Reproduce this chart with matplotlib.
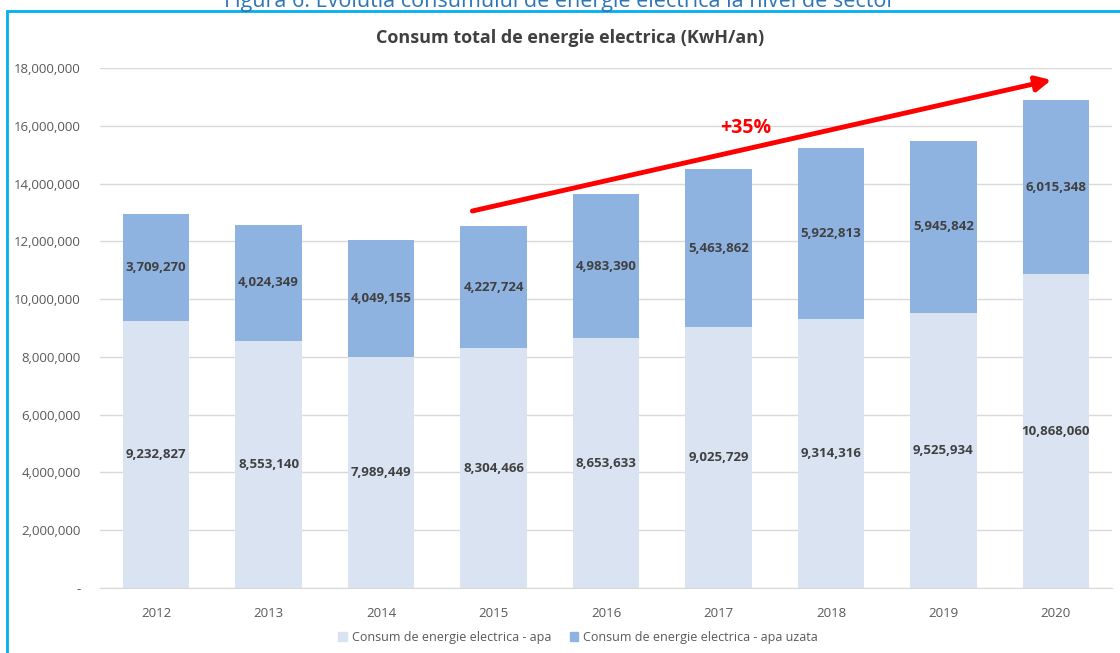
import matplotlib
matplotlib.use("Agg")
import matplotlib.pyplot as plt
from matplotlib.patches import Rectangle, Patch
from matplotlib.ticker import FuncFormatter

years = ["2012", "2013", "2014", "2015", "2016", "2017", "2018", "2019", "2020"]
apa = [9232827, 8553140, 7989449, 8304466, 8653633, 9025729, 9314316, 9525934, 10868060]
apa_uzata = [3709270, 4024349, 4049155, 4227724, 4983390, 5463862, 5922813, 5945842, 6015348]
yticks = [0, 2e6, 4e6, 6e6, 8e6, 10e6, 12e6, 14e6, 16e6, 18e6]

plt.rcParams["font.family"] = ["Open Sans", "DejaVu Sans"]

c_apa = "#dae3f1"
c_uz = "#8eb3e1"
txt = "#404040"

fig = plt.figure(figsize=(11.2, 6.53), dpi=100)
ax = fig.add_axes([100/1120, 1 - 588/653, 1012/1120, 520/653])

x = range(len(years))
ax.bar(x, apa, width=0.59, color=c_apa, zorder=2)
ax.bar(x, apa_uzata, width=0.59, bottom=apa, color=c_uz, zorder=2)

for i in x:
    ax.text(i, apa[i] / 2, f"{apa[i]:,}", ha="center", va="center",
            fontsize=9.5, fontweight="bold", color=txt, zorder=3)
    ax.text(i, apa[i] + apa_uzata[i] / 2, f"{apa_uzata[i]:,}", ha="center",
            va="center", fontsize=9.5, fontweight="bold", color=txt, zorder=3)

ax.set_xlim(-0.5, len(years) - 0.5)
ax.set_ylim(0, 18e6)
ax.set_yticks(yticks)
ax.yaxis.set_major_formatter(FuncFormatter(lambda v, p: "-" if v == 0 else f"{int(v):,}"))
ax.set_xticks(list(x))
ax.set_xticklabels(years)
ax.grid(axis="y", color="#d9d9d9", lw=1, zorder=0)
for s in ["top", "right", "left"]:
    ax.spines[s].set_visible(False)
ax.spines["bottom"].set_color("#d9d9d9")
ax.tick_params(axis="both", length=0, colors="#595959", labelsize=9.5)
ax.tick_params(axis="y", pad=14)
ax.tick_params(axis="x", pad=14)

# chart title, centred on the chart frame rather than the plot area
fig.text(570/1120, 1 - 38/653, "Consum total de energie electrica (KwH/an)", fontsize=13,
         fontweight="bold", color="#404040", ha="center", va="center")

# trend arrow
ax.annotate("", xy=(0.94, 0.977), xytext=(0.368, 0.725), xycoords="axes fraction",
            arrowprops=dict(arrowstyle="-|>,head_length=0.9,head_width=0.45",
                            color="#ff0000", lw=3.5, shrinkA=0, shrinkB=0),
            annotation_clip=False)
ax.text(0.638, 0.885, "+35%", transform=ax.transAxes, ha="center", va="center",
        fontsize=14, fontweight="bold", color="#ff0000")

# legend
handles = [Patch(color=c_apa, label="Consum de energie electrica - apa"),
           Patch(color=c_uz, label="Consum de energie electrica - apa uzata")]
fig.legend(handles=handles, loc="center", bbox_to_anchor=(578/1120, 1 - 637/653),
           ncol=2, frameon=False, fontsize=9, handlelength=0.7, handleheight=0.7,
           handletextpad=0.4, columnspacing=1.5, labelcolor="#595959")

# outer frame and caption (caption is cut at the top edge, as in the source)
fig.patches.append(Rectangle((7/1120, -0.05), 1.2, 1 - 11/653 + 0.05,
                             transform=fig.transFigure, fill=False,
                             edgecolor="#00b0f0", lw=2, zorder=0))
fig.text(0.5, 1 - 2/653, "Figura 6: Evolutia consumului de energie electrica la nivel de sector",
         ha="center", va="center", fontsize=15.5, color="#2e75b6")

fig.savefig("out.png", dpi=100)
